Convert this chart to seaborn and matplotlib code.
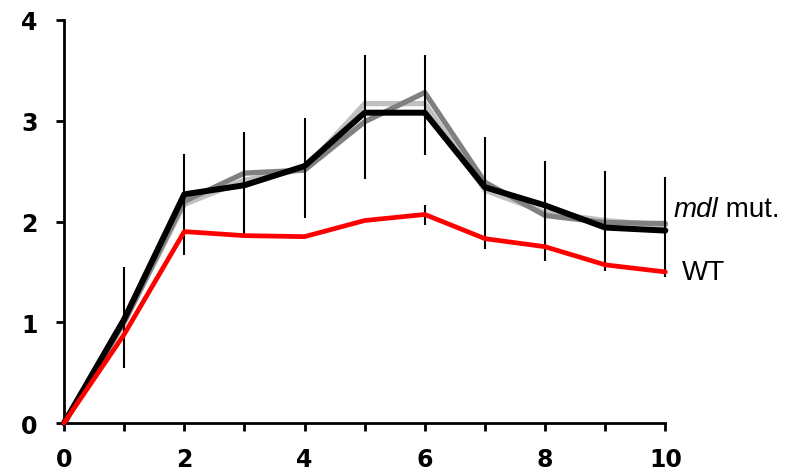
import pandas as pd
import matplotlib.pyplot as plt
import seaborn as sb

# time points and the four curves
time = [0, 1, 2, 3, 4, 5, 6, 7, 8, 9, 10]
wt = [0, 0.88, 1.90, 1.86, 1.85, 2.01, 2.07, 1.83, 1.75, 1.57, 1.50]
mut_a = [0, 1.03, 2.27, 2.36, 2.55, 3.08, 3.08, 2.34, 2.16, 1.94, 1.91]
mut_b = [0, 1.00, 2.20, 2.48, 2.51, 2.99, 3.28, 2.39, 2.06, 1.99, 1.98]
mut_c = [0, 1.00, 2.17, 2.41, 2.52, 3.17, 3.17, 2.31, 2.09, 2.01, 1.96]

# error bars (lower / upper ends)
err_x = [1, 2, 3, 4, 5, 6, 7, 8, 9, 10]
err_lo = [0.55, 1.67, 1.88, 2.03, 2.42, 2.66, 1.73, 1.61, 1.51, 1.45]
err_hi = [1.55, 2.67, 2.89, 3.03, 3.65, 3.65, 2.84, 2.60, 2.50, 2.44]
wt_err_x = [6]
wt_err_lo = [1.97]
wt_err_hi = [2.16]

x_ticks = [0, 1, 2, 3, 4, 5, 6, 7, 8, 9, 10]
x_labels = ['0', '', '2', '', '4', '', '6', '', '8', '', '10']
y_ticks = [0, 1, 2, 3, 4]

sb.set_style('white', {'axes.edgecolor': 'black', 'text.color': 'black',
                       'xtick.color': 'black', 'ytick.color': 'black'})
plt.rcParams['font.family'] = ['DejaVu Sans']

data = pd.DataFrame({
    'time': time * 4,
    'value': mut_c + mut_b + mut_a + wt,
    'line': ['c'] * 11 + ['b'] * 11 + ['a'] * 11 + ['wt'] * 11,
})

fig = plt.figure(figsize=(8.05, 4.77), dpi=100)
ax = fig.add_axes([0.0795, 0.111, 0.747, 0.845])

palette = {'c': '#c0c0c0', 'b': '#808080', 'a': '#000000', 'wt': '#ff0000'}
widths = {'c': 3.8, 'b': 3.8, 'a': 4.3, 'wt': 3.4}
for name in ['c', 'b', 'a']:
    sb.lineplot(data=data[data.line == name], x='time', y='value',
                color=palette[name], linewidth=widths[name], ax=ax,
                clip_on=False, zorder=3)
ax.vlines(err_x, err_lo, err_hi, color='black', linewidth=1.5, zorder=4, clip_on=False)
ax.vlines(wt_err_x, wt_err_lo, wt_err_hi, color='black', linewidth=1.5, zorder=4)
sb.lineplot(data=data[data.line == 'wt'], x='time', y='value',
            color=palette['wt'], linewidth=widths['wt'], ax=ax,
            clip_on=False, zorder=5)

ax.set_xlim(0, 10)
ax.set_ylim(0, 4)
ax.set_xticks(x_ticks)
ax.set_xticklabels(x_labels)
ax.set_yticks(y_ticks)
ax.set_xlabel('')
ax.set_ylabel('')
for lab in ax.get_xticklabels() + ax.get_yticklabels():
    lab.set_fontweight('bold')
    lab.set_fontsize(17)
    lab.set_color('black')
ax.tick_params(axis='x', direction='out', length=6, width=2, pad=11, bottom=True)
ax.tick_params(axis='y', direction='out', length=6, width=2, pad=13, left=True)
sb.despine(ax=ax)
ax.spines['left'].set_linewidth(2)
ax.spines['bottom'].set_linewidth(2)

t1 = ax.text(10.13, 2.12, 'mdl', style='italic', fontsize=20,
             family='Liberation Sans', va='center', ha='left', color='black')
ax.annotate(' mut.', xy=(1, 0), xycoords=t1, va='bottom', ha='left',
            fontsize=20, family='Liberation Sans', color='black')
ax.text(10.28, 1.50, 'WT', fontsize=20, family='Liberation Sans',
        va='center', ha='left', color='black')

fig.savefig('out.png', dpi=100)
